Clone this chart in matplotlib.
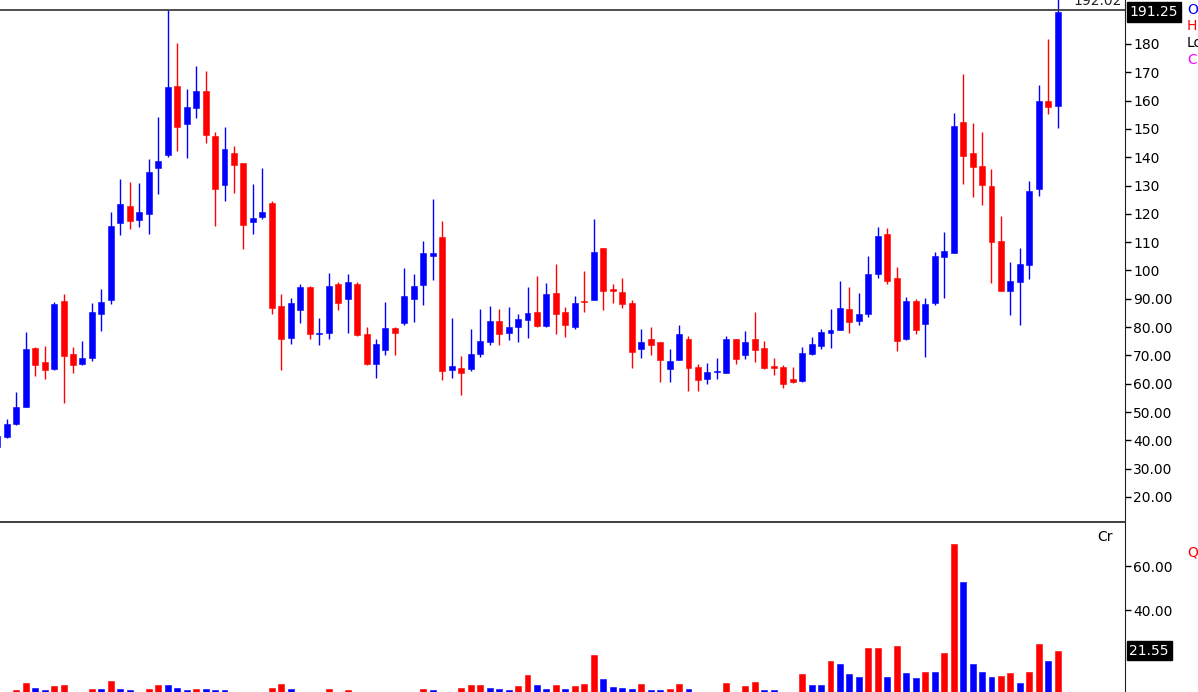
import numpy as np
import matplotlib
matplotlib.use("Agg")
import matplotlib.pyplot as plt

# daily candles, oldest first (first one is cut at the left edge)
opens = [37.6, 41.3, 45.8, 51.9, 72.5, 67.8, 65.2, 89.3, 70.4, 66.9, 69.0, 84.6, 89.6, 116.9, 122.9, 117.8,
         120.0, 136.3, 140.8, 165.3, 151.7, 157.5, 163.5, 147.5, 130.2, 141.4, 137.9, 117.2, 119.0, 123.7, 87.6,
         76.3, 86.0, 94.3, 77.6, 78.0, 95.1, 89.9, 95.1, 77.5, 67.0, 71.9, 79.6, 81.6, 89.9, 94.8, 105.1,
         111.7, 64.8, 65.5, 65.1, 70.5, 74.8, 82.3, 78.0, 80.1, 82.5, 85.2, 80.4, 91.9, 85.2, 80.2, 89.3,
         89.6, 107.8, 93.4, 92.4, 88.4, 72.3, 75.7, 74.6, 65.2, 68.4, 75.7, 66.0, 61.7, 64.2, 63.9, 75.7,
         70.1, 75.7, 72.5, 66.0, 66.0, 61.7, 61.1, 70.4, 73.4, 78.0, 79.0, 86.3, 82.3, 84.5, 98.7, 112.8,
         97.2, 75.7, 89.2, 81.1, 88.4, 104.9, 106.3, 152.3, 141.4, 137.0, 130.0, 110.5, 92.8, 96.0, 101.9,
         128.7, 160.0, 158.1]
highs = [42.6, 47.4, 57.2, 78.4, 73.1, 73.4, 89.0, 91.7, 73.1, 75.2, 88.6, 93.4, 120.8, 132.2, 131.4, 131.0,
         139.3, 154.3, 192.0, 180.5, 164.0, 172.3, 170.6, 149.0, 150.6, 144.1, 138.1, 130.5, 136.1, 124.7, 91.6,
         90.2, 95.1, 94.5, 83.1, 99.0, 95.8, 98.7, 96.0, 80.1, 75.8, 89.0, 80.1, 100.8, 98.7, 110.5, 125.1,
         117.6, 83.1, 69.9, 79.2, 86.3, 87.6, 86.3, 87.0, 84.5, 94.3, 98.2, 95.5, 102.2, 87.2, 91.1, 99.9,
         118.1, 108.0, 95.1, 97.2, 89.6, 79.3, 80.1, 74.8, 72.2, 80.7, 77.0, 67.0, 67.4, 69.0, 77.0, 75.9,
         78.7, 85.4, 75.2, 69.0, 66.6, 66.0, 73.1, 76.6, 79.2, 86.3, 96.4, 94.3, 91.9, 105.2, 115.5, 114.9,
         101.3, 90.7, 89.8, 90.2, 106.6, 113.7, 155.5, 169.4, 152.0, 149.0, 135.7, 119.2, 102.9, 107.8, 131.7,
         165.5, 181.7, 196.0]
lows = [35.9, 40.9, 45.5, 51.7, 62.8, 61.6, 64.9, 53.1, 63.9, 66.7, 68.1, 78.7, 88.2, 112.5, 114.5, 115.5,
        112.8, 127.0, 140.2, 142.3, 139.6, 154.0, 145.1, 115.7, 124.5, 127.5, 107.5, 112.9, 118.1, 84.6, 64.9,
        74.0, 81.6, 75.8, 73.7, 75.8, 86.0, 78.0, 77.0, 66.6, 62.1, 70.1, 70.1, 80.7, 81.9, 87.8, 96.6,
        61.3, 62.1, 56.0, 64.6, 69.5, 73.7, 73.7, 75.4, 74.8, 76.3, 80.2, 80.2, 77.5, 76.6, 79.2, 85.4,
        89.4, 86.0, 88.6, 86.6, 65.7, 69.0, 70.0, 60.7, 60.7, 68.2, 57.5, 57.5, 59.9, 61.6, 63.7, 67.0,
        68.6, 67.8, 65.2, 63.1, 58.6, 60.4, 60.7, 70.2, 72.3, 72.7, 78.8, 78.0, 80.7, 83.7, 97.5, 95.1,
        71.7, 75.5, 77.6, 69.5, 87.8, 90.4, 106.1, 130.6, 126.1, 123.1, 95.7, 92.6, 84.3, 80.7, 96.9,
        126.4, 155.3, 150.4]
closes = [41.5, 45.7, 51.9, 72.1, 66.6, 64.8, 88.2, 69.9, 66.6, 69.0, 85.4, 89.0, 115.8, 123.4, 117.6, 120.8,
          134.9, 138.8, 164.9, 150.8, 157.9, 163.5, 147.9, 128.8, 142.8, 137.3, 116.1, 118.4, 120.8, 86.9, 75.8,
          88.4, 94.3, 77.6, 78.0, 94.6, 88.6, 95.8, 77.2, 67.0, 73.9, 79.6, 78.0, 91.1, 94.5, 106.1, 106.1,
          64.6, 66.4, 63.9, 70.4, 75.2, 82.3, 77.6, 80.1, 82.8, 84.9, 80.4, 91.6, 84.6, 80.7, 88.4, 88.8,
          106.6, 92.8, 92.9, 88.2, 71.3, 74.6, 73.7, 68.4, 68.1, 77.5, 65.7, 61.3, 64.2, 64.6, 75.7, 68.7,
          74.8, 71.9, 65.5, 65.7, 59.9, 60.7, 70.8, 73.9, 78.4, 79.0, 86.6, 81.9, 84.5, 98.7, 112.3, 96.4,
          75.1, 89.2, 79.0, 88.1, 105.2, 107.0, 151.1, 140.4, 136.7, 130.2, 110.2, 92.8, 96.3, 102.2, 128.2,
          160.0, 157.9, 191.25]
# turnover in Cr
volumes = [2.0, 2.7, 3.6, 7.0, 4.7, 3.6, 5.5, 5.9, 2.7, 2.8, 4.1, 4.0, 7.7, 4.0, 3.6, 2.7,
           4.1, 5.9, 5.8, 4.7, 3.6, 4.1, 4.0, 3.6, 3.5, 2.7, 2.8, 2.7, 2.0, 4.7, 6.4,
           4.0, 2.7, 2.0, 1.8, 4.1, 2.7, 3.6, 2.0, 1.8, 2.2, 2.0, 1.9, 2.7, 2.8, 4.1, 3.6,
           2.7, 2.6, 4.7, 5.9, 6.0, 4.7, 4.0, 3.6, 5.5, 10.5, 5.9, 4.0, 5.9, 4.0, 5.5, 6.4,
           19.5, 8.5, 5.2, 4.4, 3.9, 6.4, 3.6, 3.5, 3.9, 6.4, 3.9, 2.2, 2.0, 2.8, 6.7, 2.7,
           5.6, 7.4, 3.6, 3.5, 2.7, 2.6, 10.8, 5.9, 5.8, 17.0, 15.3, 10.8, 9.7, 22.6, 22.7, 9.7,
           23.8, 11.2, 8.9, 12.0, 11.9, 20.3, 70.0, 52.9, 15.3, 12.0, 9.7, 9.8, 11.2, 6.7, 12.0,
           24.4, 17.0, 21.55]

price_ticks = [20, 30, 40, 50, 60, 70, 80, 90, 100, 110, 120, 130, 140, 150, 160, 170, 180]
vol_ticks = [40, 60]
high_line = 192.02

BLUE = "#0000ff"
RED = "#ff0000"

o = np.array(opens)
h = np.array(highs)
l = np.array(lows)
c = np.array(closes)
v = np.array(volumes)
x = np.arange(len(o))

candle_col = np.where(c >= o, BLUE, RED)
vol_up = np.concatenate([[True], v[1:] > v[:-1]])
vol_col = np.where(vol_up, RED, BLUE)

plt.rcParams['font.family'] = ['DejaVu Sans']
W, H = 1198, 692
fig = plt.figure(figsize=(W / 100, H / 100), dpi=100)
ax = fig.add_axes([0, 1 - 522 / H, 1125 / W, 522 / H])
axv = fig.add_axes([0, 0, 1125 / W, 169 / H])

# candles
ax.vlines(x, l, h, colors=candle_col, lw=1.0)
body = np.maximum(np.abs(c - o), 0.45)
ax.bar(x, body, bottom=np.minimum(o, c), width=0.63, color=candle_col, edgecolor=candle_col, lw=0.4)
ax.axhline(high_line, color="#404040", lw=1.3)
ax.text(1122 / 1125, high_line + 0.6, f"{high_line:.2f}", transform=ax.get_yaxis_transform(),
        ha="right", va="bottom", fontsize=10, color="#222222")

ax.set_xlim(0.29, 119.1)
ax.set_ylim(11.15, 195.54)

# volume
axv.bar(x, v, width=0.63, color=vol_col, edgecolor=vol_col, lw=0.4)
axv.set_xlim(0.29, 119.1)
axv.set_ylim(2.73, 79.55)

for a in (ax, axv):
    a.spines["left"].set_visible(False)
    a.spines["top"].set_visible(False)
    a.spines["right"].set_color("#202020")
    a.set_xticks([])
    a.yaxis.tick_right()
    a.tick_params(axis="y", direction="out", length=4, width=1, pad=2, labelsize=10, colors="black")
    a.set_facecolor("white")
axv.spines["bottom"].set_visible(False)
ax.spines["bottom"].set_color("#303030")
ax.spines["bottom"].set_linewidth(1.3)

ax.set_yticks(price_ticks)
ax.set_yticklabels([f"{t}" if t >= 100 else f"{t:.2f}" for t in price_ticks])
axv.set_yticks(vol_ticks)
axv.set_yticklabels([f"{t:.2f}" for t in vol_ticks])

# last value boxes
ax.text(1.004, closes[-1], f"{closes[-1]:.2f}", transform=ax.get_yaxis_transform(), ha="left", va="center",
        fontsize=10, color="white", bbox=dict(boxstyle="square,pad=0.2", fc="black", ec="black"))
axv.text(1.004, volumes[-1], f"{volumes[-1]:.2f}", transform=axv.get_yaxis_transform(), ha="left",
         va="center", fontsize=10, color="white",
         bbox=dict(boxstyle="square,pad=0.2", fc="black", ec="black"))

axv.text(1113 / 1125, 0.92, "Cr", transform=axv.transAxes, ha="right", va="center", fontsize=10)

# clipped legend letters on the far right
for txt, col, yy in [("O", BLUE, 10), ("H", RED, 26), ("Lo", "black", 43), ("Cl", "#ff00ff", 60)]:
    fig.text(1187 / W, 1 - yy / H, txt, color=col, fontsize=10, ha="left", va="center")
fig.text(1187 / W, 1 - 553 / H, "Q", color=RED, fontsize=10, ha="left", va="center")

fig.savefig("out.png", dpi=100, facecolor="white")
